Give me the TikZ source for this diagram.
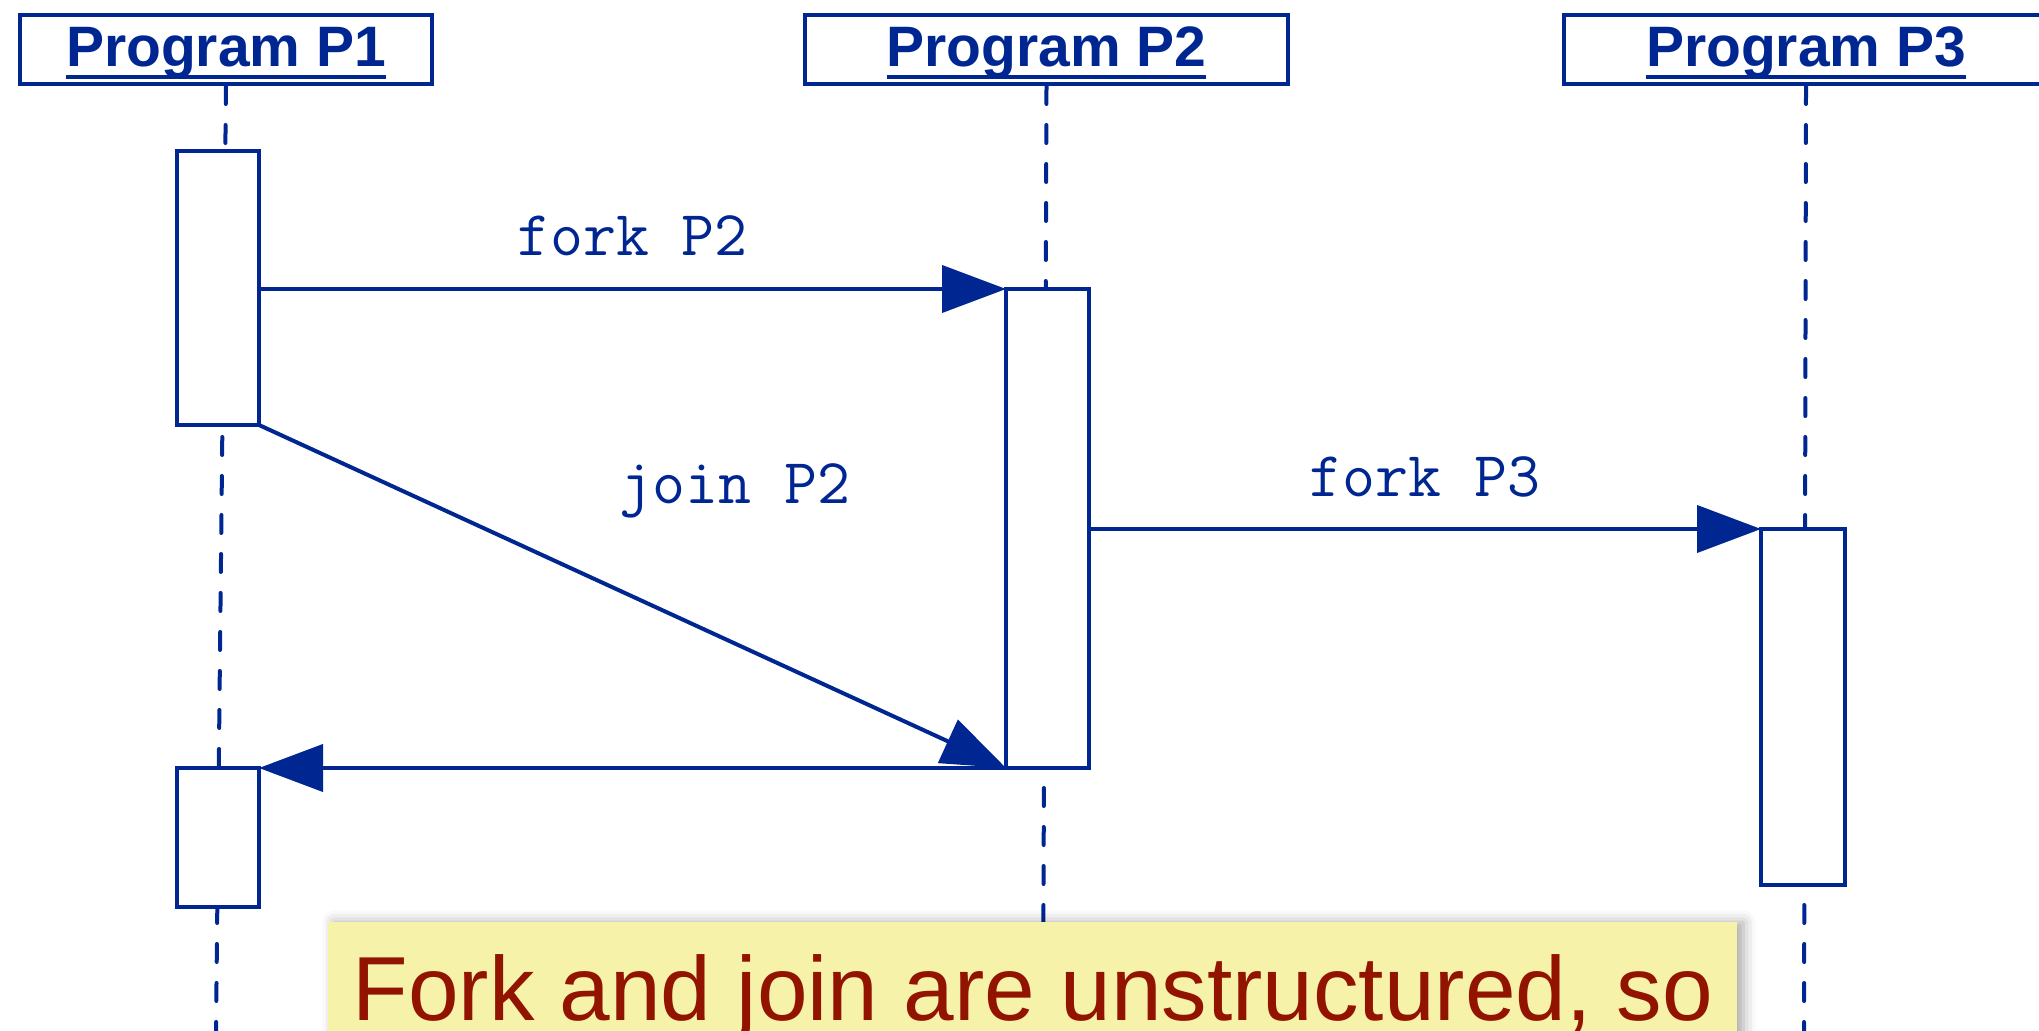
\documentclass[tikz,border=0pt]{standalone}
\usepackage{fontspec}
\setmainfont{Liberation Sans}
\usetikzlibrary{arrows.meta,shadows.blur}

\definecolor{umlblue}{RGB}{0,38,145}
\definecolor{notered}{RGB}{146,20,0}
\definecolor{noteyellow}{RGB}{246,242,169}

% underlined header caption, rule at a fixed depth below the baseline
\newcommand{\hdcaption}[1]{\setbox0\hbox{#1}\rlap{\rule[-6pt]{\wd0}{2pt}}\box0}

\begin{document}
\begin{tikzpicture}[x=0.5pt,y=-0.5pt,
  header/.style={draw=umlblue, line width=2pt, fill=white, inner sep=0pt,
    anchor=north west, text height=26pt, text depth=8.5pt, text=umlblue,
    font=\fontsize{28.5}{30}\selectfont\bfseries},
  lifeline/.style={draw=umlblue, line width=2pt, line cap=round,
    dash pattern=on 9pt off 10.5pt},
  act/.style={draw=umlblue, line width=2pt, fill=white, inner sep=0pt,
    outer sep=0pt},
  msg/.style={draw=umlblue, line width=2pt, umlblue,
    -{Triangle[length=32pt,width=23.5pt]}},
  lbl/.style={text=umlblue, inner sep=0pt, anchor=base,
    font=\fontsize{32}{34}\selectfont\ttfamily},
  note/.style={fill=noteyellow, text=notered, anchor=north west,
    font=\fontsize{45.5}{50}\selectfont, minimum width=704.5pt,
    inner xsep=0pt, inner ysep=0pt, text height=49pt, text depth=20pt,
    blur shadow={shadow xshift=3pt, shadow yshift=0pt,
      shadow blur radius=6pt, shadow opacity=35}}]
\useasboundingbox (0,0) rectangle (2039,1031);

% participants
\node[header, minimum width=206pt] (h1) at (18,13) {\hdcaption{Program P1}};
\node[header, minimum width=241.5pt] (h2) at (803,13) {\hdcaption{Program P2}};
\node[header, minimum width=242pt] (h3) at (1562,13) {\hdcaption{Program P3}};

% lifelines
\coordinate (l1end) at (216,1031);
\coordinate (l2end) at (1043,1031);
\coordinate (l3end) at (1804,1031);
\draw[lifeline] (h1.south) -- (l1end);
\draw[lifeline] (h2.south) -- (l2end);
\draw[lifeline] (h3.south) -- (l3end);

% activation bars
\node[act, minimum width=41pt, minimum height=137pt] (a1) at (218,288) {};
\node[act, minimum width=41pt, minimum height=69.5pt] (a1b) at (218,837.5) {};
\node[act, minimum width=41.5pt, minimum height=239.5pt] (a2) at (1047.5,528.5) {};
\node[act, minimum width=42pt, minimum height=178pt] (a3) at (1803,707) {};

% messages
\draw[msg] (a1.east |- a2.north west) --
  node[lbl, yshift=16.5pt] (fk2) {fork P2} (a2.north west);
\draw[msg] (a1.south east) -- (a2.south west);
\node[lbl] (jn2) at (735,504) {join P2};
\draw[msg] (a2.south west) -- (a1b.north east);
\draw[msg] (a2.east |- a3.north west) --
  node[lbl, yshift=16pt] (fk3) {fork P3} (a3.north west);

% remark
\node[note] (rem) at (328,922) {Fork and join are unstructured, so};
\end{tikzpicture}
\end{document}
